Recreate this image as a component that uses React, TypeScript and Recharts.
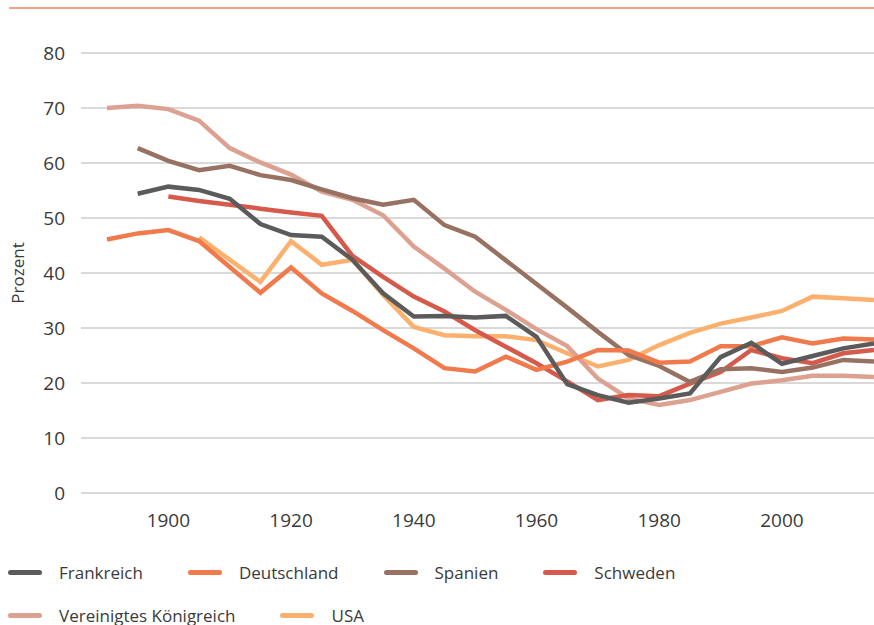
import React from 'react';
import { LineChart, Line, XAxis, YAxis, CartesianGrid, Label } from 'recharts';

// Jahre (5-Jahres-Schritte)
const years = [
  1890, 1895, 1900, 1905, 1910, 1915, 1920, 1925, 1930, 1935, 1940, 1945, 1950,
  1955, 1960, 1965, 1970, 1975, 1980, 1985, 1990, 1995, 2000, 2005, 2010, 2015,
];

const frankreich = [
  null, 54.4, 55.7, 55.1, 53.5, 48.9, 46.9, 46.6, 42.4, 36.3, 32.1, 32.2, 31.9,
  32.2, 28.4, 19.8, 17.8, 16.4, 17.2, 18.1, 24.7, 27.3, 23.5, 24.9, 26.3, 27.2,
];
const deutschland = [
  46.1, 47.2, 47.8, 45.8, 41.1, 36.4, 41.0, 36.3, 33.1, 29.6, 26.3, 22.7, 22.1,
  24.8, 22.4, 23.9, 26.0, 25.9, 23.7, 23.9, 26.7, 26.7, 28.3, 27.2, 28.1, 27.9,
];
const spanien = [
  null, 62.7, 60.4, 58.7, 59.5, 57.8, 56.9, 55.2, 53.6, 52.4, 53.3, 48.7, 46.6,
  42.3, 38.0, 33.7, 29.3, 25.1, 23.1, 20.2, 22.5, 22.7, 22.0, 22.8, 24.2, 23.9,
];
const schweden = [
  null, null, 53.9, 53.1, 52.4, 51.7, 51.0, 50.4, 43.1, 39.3, 35.7, 33.0, 29.6,
  26.6, 23.6, 20.3, 16.9, 17.8, 17.6, 19.9, 22.0, 26.0, 24.5, 23.6, 25.4, 26.0,
];
const vereinigtesKoenigreich = [
  70.0, 70.4, 69.8, 67.7, 62.7, 60.1, 57.9, 54.8, 53.3, 50.5, 44.8, 40.8, 36.6,
  33.3, 29.8, 26.7, 20.8, 17.2, 16.0, 16.9, 18.4, 19.9, 20.5, 21.3, 21.3, 21.1,
];
const usa = [
  null, null, null, 46.5, 42.4, 38.4, 45.8, 41.5, 42.4, 36.0, 30.2, 28.7, 28.5,
  28.5, 27.8, 25.4, 23.0, 24.2, 26.9, 29.1, 30.8, 31.9, 33.1, 35.7, 35.4, 35.1,
];

const xTicks = [1900, 1920, 1940, 1960, 1980, 2000];
const yTicks = [0, 10, 20, 30, 40, 50, 60, 70, 80];

const series = [
  { key: 'frankreich', name: 'Frankreich', color: '#5b5b5b', values: frankreich },
  { key: 'deutschland', name: 'Deutschland', color: '#f07a4c', values: deutschland },
  { key: 'spanien', name: 'Spanien', color: '#977262', values: spanien },
  { key: 'schweden', name: 'Schweden', color: '#d55a4b', values: schweden },
  { key: 'uk', name: 'Vereinigtes Königreich', color: '#dca191', values: vereinigtesKoenigreich },
  { key: 'usa', name: 'USA', color: '#fcb06d', values: usa },
];

const chartData = years.map((year, i) => {
  const row: Record<string, number | null> = { year };
  series.forEach((s) => {
    row[s.key] = s.values[i];
  });
  return row;
});

const font = "'Open Sans', sans-serif";

export default function App() {
  // Frankreich liegt im Original obenauf -> umgekehrte Reihenfolge zeichnen
  const drawOrder = [...series].reverse();

  return (
    <div
      style={{
        position: 'absolute',
        left: 0,
        top: 0,
        width: 874,
        height: 625,
        background: '#fff',
        overflow: 'hidden',
      }}
    >
      <div
        style={{
          position: 'absolute',
          left: 9,
          top: 7,
          width: 865,
          height: 2,
          background: '#f3a283',
        }}
      />
      <div style={{ position: 'absolute', left: 0, top: 0 }}>
        <LineChart
          width={874}
          height={545}
          data={chartData}
          margin={{ top: 53, right: 0, left: 0, bottom: 12 }}
        >
          <CartesianGrid vertical={false} stroke="#d9d9d9" strokeWidth={2} />
          <XAxis
            dataKey="year"
            type="number"
            domain={[1890, 2015]}
            ticks={xTicks}
            padding={{ left: 26, right: 0 }}
            height={40}
            axisLine={false}
            tickLine={false}
            tickSize={8}
            tickMargin={13}
            tick={{ fill: '#3a3a3a', fontSize: 19, fontFamily: font }}
          />
          <YAxis
            domain={[0, 80]}
            ticks={yTicks}
            width={81}
            axisLine={false}
            tickLine={false}
            tickSize={8}
            tickMargin={8}
            tick={{ fill: '#3a3a3a', fontSize: 19, fontFamily: font }}
          >
            <Label
              content={() => (
                <text
                  x={17}
                  y={273}
                  transform="rotate(-90 17 273)"
                  textAnchor="middle"
                  dominantBaseline="central"
                  fill="#3a3a3a"
                  fontSize={17}
                  fontFamily={font}
                >
                  Prozent
                </text>
              )}
            />
          </YAxis>
          {drawOrder.map((s) => (
            <Line
              key={s.key}
              type="linear"
              dataKey={s.key}
              name={s.name}
              stroke={s.color}
              strokeWidth={4.5}
              dot={false}
              activeDot={false}
              isAnimationActive={false}
            />
          ))}
        </LineChart>
      </div>
      <div
        style={{
          position: 'absolute',
          left: 8,
          top: 555,
          width: 866,
          display: 'flex',
          flexWrap: 'wrap',
          columnGap: 45,
          rowGap: 9,
          fontFamily: font,
          fontSize: 17,
          color: '#3a3a3a',
        }}
      >
        {series.map((s) => (
          <div
            key={s.key}
            style={{ display: 'flex', alignItems: 'center', height: 34 }}
          >
            <span
              style={{
                display: 'inline-block',
                width: 34,
                height: 5,
                borderRadius: 3,
                background: s.color,
                marginRight: 17,
              }}
            />
            <span>{s.name}</span>
          </div>
        ))}
      </div>
    </div>
  );
}
